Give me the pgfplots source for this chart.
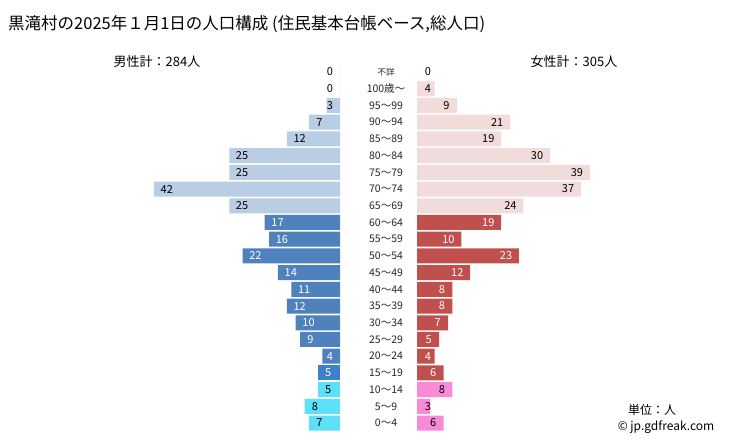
\documentclass[border=0pt]{standalone}
\usepackage{pgfplots}
\pgfplotsset{compat=1.18}
\usepackage{pgfplotstable}
\usepackage{fontspec}
\setmainfont{Noto Sans CJK JP}

\definecolor{mOld}{HTML}{B9CDE5}
\definecolor{mWork}{HTML}{4F81BD}
\definecolor{mTeen}{HTML}{3F80CE}
\definecolor{mYoung}{HTML}{5DE1FA}
\definecolor{fOld}{HTML}{F2DCDB}
\definecolor{fWork}{HTML}{C0504D}
\definecolor{fYoung}{HTML}{F98AD8}

% row 0 = 0-4 years ... row 20 = 100+, row 21 = unknown
\pgfplotstableread{
row v
0 7
1 8
2 5
}\maleYoung
\pgfplotstableread{
row v
3 5
}\maleTeen
\pgfplotstableread{
row v
4 4
5 9
6 10
7 12
8 11
9 14
10 22
11 16
12 17
}\maleWork
\pgfplotstableread{
row v
13 25
14 42
15 25
16 25
17 12
18 7
19 3
20 0
21 0
}\maleOld

\pgfplotstableread{
row v
0 6
1 3
2 8
}\femaleYoung
\pgfplotstableread{
row v
3 6
4 4
5 5
6 7
7 8
8 8
9 12
10 23
11 10
12 19
}\femaleWork
\pgfplotstableread{
row v
13 24
14 37
15 39
16 30
17 19
18 21
19 9
20 4
21 0
}\femaleOld

\newcommand{\numfont}{\fontsize{11bp}{13bp}\selectfont}

\pgfplotsset{
  pyramid/.style={
    scale only axis,
    width=199.35bp, height=367.7bp,
    xmin=0, xmax=45, ymin=-0.5, ymax=21.5,
    hide axis, clip=false,
    /pgf/number format/assume math mode=true,
  },
  bars/.style={xbar, bar width=15bp, bar shift=0pt, draw=none, fill=#1},
  vals/.style={draw=none, mark=none, nodes near coords, point meta=explicit,
    every node near coord/.append style={anchor=center, font=\numfont, text=#1}},
}

\begin{document}
\begin{tikzpicture}
\path[use as bounding box] (0,0) rectangle (729bp,445bp);

% men, growing to the left
\begin{axis}[pyramid, x dir=reverse, at={(340bp,13.6bp)}, anchor=south east]
  \addplot[bars=mYoung] table[x=v, y=row] {\maleYoung};
  \addplot[bars=mTeen]  table[x=v, y=row] {\maleTeen};
  \addplot[bars=mWork]  table[x=v, y=row] {\maleWork};
  \addplot[bars=mOld]   table[x=v, y=row] {\maleOld};
  \addplot[vals=black] table[x expr={\thisrow{v}<10 ? max(\thisrow{v}-2.35,2.3) : \thisrow{v}-2.9}, y=row, meta=v] {\maleYoung};
  \addplot[vals=white] table[x expr={\thisrow{v}<10 ? max(\thisrow{v}-2.35,2.3) : \thisrow{v}-2.9}, y=row, meta=v] {\maleTeen};
  \addplot[vals=white] table[x expr={\thisrow{v}<10 ? max(\thisrow{v}-2.35,2.3) : \thisrow{v}-2.9}, y=row, meta=v] {\maleWork};
  \addplot[vals=black] table[x expr={\thisrow{v}<10 ? max(\thisrow{v}-2.35,2.3) : \thisrow{v}-2.9}, y=row, meta=v] {\maleOld};
\end{axis}

% women, growing to the right
\begin{axis}[pyramid, at={(417bp,13.6bp)}, anchor=south west]
  \addplot[bars=fYoung] table[x=v, y=row] {\femaleYoung};
  \addplot[bars=fWork]  table[x=v, y=row] {\femaleWork};
  \addplot[bars=fOld]   table[x=v, y=row] {\femaleOld};
  \addplot[vals=black] table[x expr={\thisrow{v}<10 ? max(\thisrow{v}-2.35,2.45) : \thisrow{v}-2.9}, y=row, meta=v] {\femaleYoung};
  \addplot[vals=white] table[x expr={\thisrow{v}<10 ? max(\thisrow{v}-2.35,2.45) : \thisrow{v}-2.9}, y=row, meta=v] {\femaleWork};
  \addplot[vals=black] table[x expr={\thisrow{v}<10 ? max(\thisrow{v}-2.35,2.45) : \thisrow{v}-2.9}, y=row, meta=v] {\femaleOld};
\end{axis}

% age classes between the two halves
\foreach \lab [count=\i from 0] in {0～4,5～9,10～14,15～19,20～24,25～29,30～34,35～39,40～44,45～49,50～54,55～59,60～64,65～69,70～74,75～79,80～84,85～89,90～94,95～99,100歳～}
  \node[font=\fontsize{10.5bp}{12bp}\selectfont, text=black!85, inner sep=0pt] at (386bp,{(13.6+(\i+0.5)*16.715)*1bp}) {\lab};
\node[font=\fontsize{8.5bp}{10bp}\selectfont, text=black!85, inner sep=0pt] at (386bp,{(13.6+21.5*16.715)*1bp}) {不詳};

\node[anchor=west, inner sep=0pt, font=\fontsize{16.5bp}{19bp}\selectfont] at (8bp,421bp)
  {黒滝村の2025年１月1日の人口構成 (住民基本台帳ベース,総人口)};
\node[inner sep=0pt, font=\fontsize{13bp}{15bp}\selectfont] at (157bp,383bp) {男性計：284人};
\node[inner sep=0pt, font=\fontsize{13bp}{15bp}\selectfont] at (574bp,383bp) {女性計：305人};
\node[inner sep=0pt, font=\fontsize{12bp}{14bp}\selectfont] at (652bp,35bp) {単位：人};
\node[inner sep=0pt, font=\fontsize{12bp}{14bp}\selectfont] at (666bp,18bp) {© jp.gdfreak.com};
\end{tikzpicture}
\end{document}
